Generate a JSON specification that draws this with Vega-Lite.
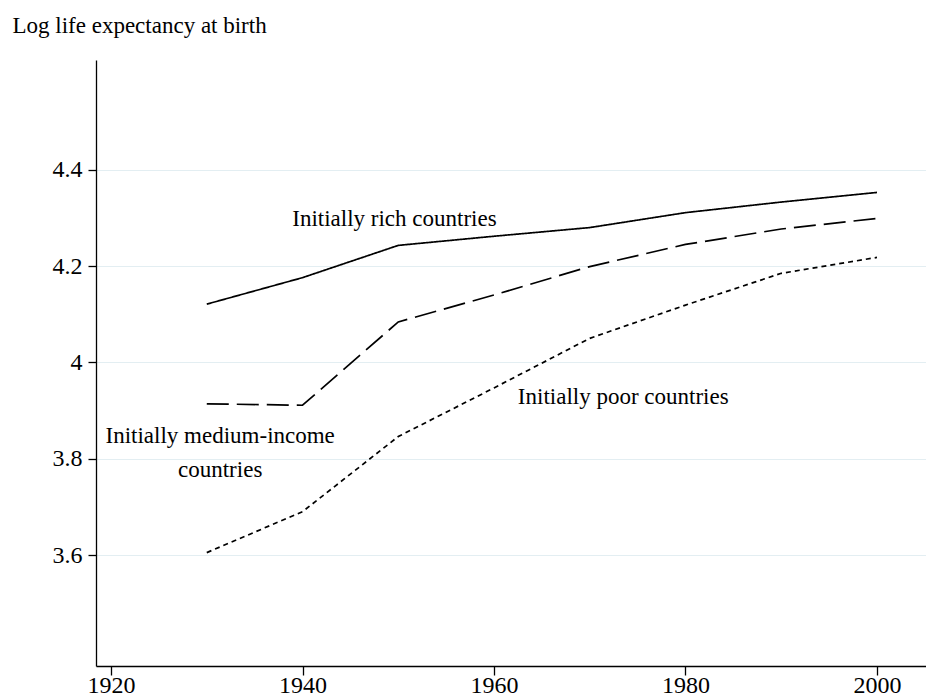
{
  "$schema": "https://vega.github.io/schema/vega-lite/v6.json",
  "width": 830,
  "height": 606,
  "autosize": {"type": "none"},
  "padding": {"left": 96, "top": 60, "right": 0, "bottom": 32},
  "background": "white",
  "config": {
    "view": {"stroke": null},
    "font": "Liberation Serif",
    "axis": {"labelFont": "Liberation Serif", "titleFont": "Liberation Serif", "labelColor": "#000", "titleColor": "#000", "domainColor": "#000", "tickColor": "#000", "domainWidth": 1.3, "tickWidth": 1.3}
  },
  "datasets": {
    "lines": [
      {"year": 1930, "value": 4.121, "group": "rich"},
      {"year": 1940, "value": 4.176, "group": "rich"},
      {"year": 1950, "value": 4.243, "group": "rich"},
      {"year": 1960, "value": 4.262, "group": "rich"},
      {"year": 1970, "value": 4.280, "group": "rich"},
      {"year": 1980, "value": 4.311, "group": "rich"},
      {"year": 1990, "value": 4.333, "group": "rich"},
      {"year": 2000, "value": 4.353, "group": "rich"},
      {"year": 1930, "value": 3.914, "group": "medium"},
      {"year": 1940, "value": 3.911, "group": "medium"},
      {"year": 1950, "value": 4.084, "group": "medium"},
      {"year": 1960, "value": 4.140, "group": "medium"},
      {"year": 1970, "value": 4.199, "group": "medium"},
      {"year": 1980, "value": 4.245, "group": "medium"},
      {"year": 1990, "value": 4.277, "group": "medium"},
      {"year": 2000, "value": 4.299, "group": "medium"},
      {"year": 1930, "value": 3.605, "group": "poor"},
      {"year": 1940, "value": 3.690, "group": "poor"},
      {"year": 1950, "value": 3.846, "group": "poor"},
      {"year": 1960, "value": 3.947, "group": "poor"},
      {"year": 1970, "value": 4.050, "group": "poor"},
      {"year": 1980, "value": 4.119, "group": "poor"},
      {"year": 1990, "value": 4.185, "group": "poor"},
      {"year": 2000, "value": 4.218, "group": "poor"}
    ],
    "labels": [
      {"year": 1949.6, "value": 4.283, "label": "Initially rich countries"},
      {"year": 1973.5, "value": 3.913, "label": "Initially poor countries"},
      {"year": 1931.4, "value": 3.832, "label": "Initially medium-income"},
      {"year": 1931.4, "value": 3.762, "label": "countries"}
    ]
  },
  "layer": [
    {
      "data": {"name": "lines"},
      "mark": {"type": "line", "color": "#000", "strokeWidth": 1.7, "clip": true},
      "encoding": {
        "x": {
          "field": "year", "type": "quantitative",
          "scale": {"domain": [1918.43, 2005.12], "nice": false, "zero": false},
          "axis": {"values": [1920, 1940, 1960, 1980, 2000], "format": "d", "title": null, "grid": false, "labelFontSize": 24, "tickSize": 9, "labelBaseline": "alphabetic", "labelPadding": 17, "labelFlush": false}
        },
        "y": {
          "field": "value", "type": "quantitative",
          "scale": {"domain": [3.3695, 4.628], "nice": false, "zero": false},
          "axis": {"values": [3.6, 3.8, 4, 4.2, 4.4], "format": "~g", "grid": true, "gridColor": "#e3eef2", "gridWidth": 1.2, "labelFontSize": 24, "tickSize": 8, "labelPadding": 6,
            "title": "Log life expectancy at birth", "titleAngle": 0, "titleFontSize": 23, "titleFontWeight": "normal", "titleAlign": "left", "titleBaseline": "alphabetic", "titleX": -84, "titleY": -28}
        },
        "detail": {"field": "group"},
        "strokeDash": {
          "field": "group", "type": "nominal",
          "scale": {"domain": ["rich", "medium", "poor"], "range": [[1, 0], [22, 8], [5, 4]]},
          "legend": null
        }
      }
    },
    {
      "data": {"name": "labels"},
      "mark": {"type": "text", "font": "Liberation Serif", "fontSize": 23, "align": "center", "baseline": "alphabetic", "color": "#000"},
      "encoding": {
        "x": {"field": "year", "type": "quantitative"},
        "y": {"field": "value", "type": "quantitative"},
        "text": {"field": "label"}
      }
    }
  ]
}
